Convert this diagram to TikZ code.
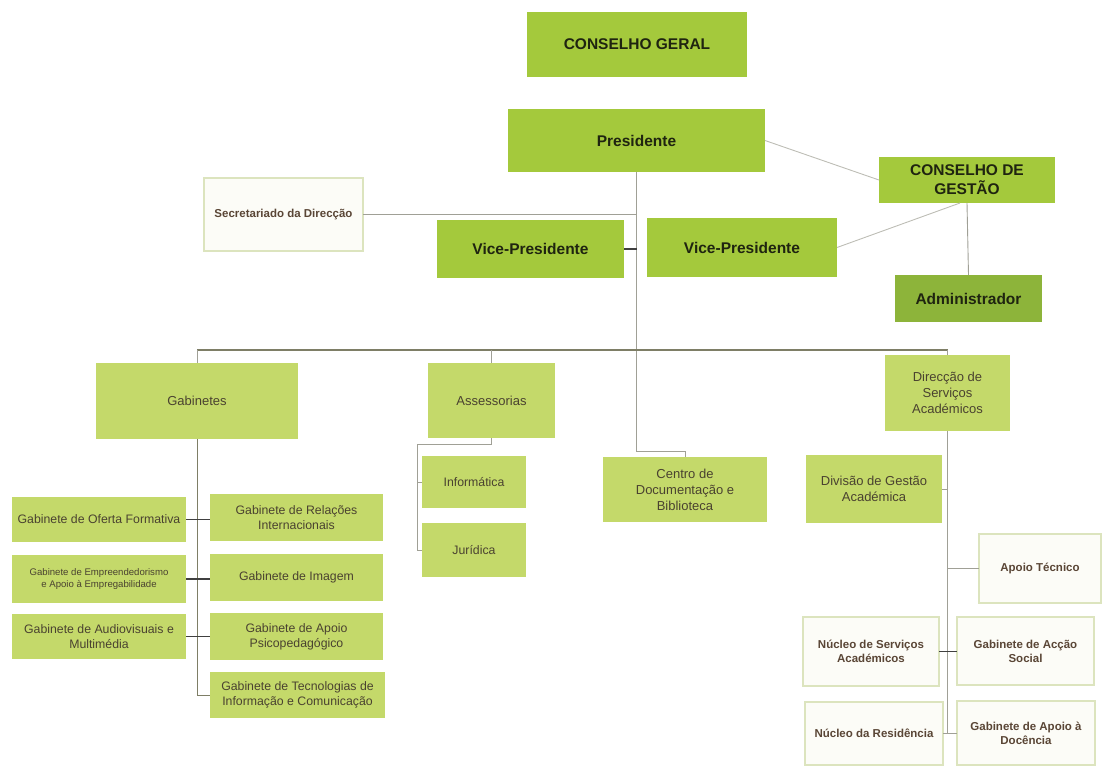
\documentclass[tikz,border=0pt]{standalone}
\usepackage{fontspec}
\setmainfont{Liberation Sans}
\definecolor{topgreen}{HTML}{A4C93C}
\definecolor{admgreen}{HTML}{8DB43A}
\definecolor{lightgreen}{HTML}{C4D96A}
\definecolor{wborder}{HTML}{DCE4BE}
\definecolor{wfill}{HTML}{FCFCF7}
\definecolor{toptext}{HTML}{1F2410}
\definecolor{lowtext}{HTML}{4A4230}
\definecolor{wtext}{HTML}{5A4636}
\definecolor{lnc}{HTML}{A0A096}
\definecolor{busc}{HTML}{7E7E66}
\newcommand\orgbox[7]{\node[#1,minimum width={(#4-#3)*1pt},minimum height={(#6-#5)*1pt}] (#2) at ({(#3+#4)/2},{(#5+#6)/2}) {#7};}
\begin{document}
\begin{tikzpicture}[x=1pt,y=-1pt,
  base/.style={inner sep=1pt,outer sep=0pt,align=center},
  topbox/.style={base,fill=topgreen,text=toptext,font=\bfseries\fontsize{15.5}{19}\selectfont},
  admbox/.style={base,fill=admgreen,text=toptext,font=\bfseries\fontsize{15.5}{19}\selectfont},
  lightbox/.style={base,fill=lightgreen,text=lowtext,font=\fontsize{13}{16}\selectfont},
  subbox/.style={base,fill=lightgreen,text=lowtext,font=\fontsize{12.3}{15}\selectfont},
  whitebox/.style={base,fill=wfill,draw=wborder,line width=1.5pt,text=wtext,font=\bfseries\fontsize{11.5}{14}\selectfont},
  conn/.style={draw=lnc,line width=0.9pt},
  busline/.style={draw=busc,line width=1.2pt},
  tick/.style={draw=black!75,line width=1.3pt}]
\useasboundingbox (0,0) rectangle (1103,766);
% top level
\orgbox{topbox}{cg}{527}{747}{12}{77}{CONSELHO GERAL}
\orgbox{topbox}{pres}{508}{765}{109}{172}{Presidente}
\orgbox{topbox}{cdg}{879}{1055}{157}{203}{CONSELHO DE\\GESTÃO}
\orgbox{admbox}{adm}{895}{1042}{275}{322}{Administrador}
\orgbox{whitebox}{sec}{204}{363}{178}{251}{Secretariado da Direcção}
\orgbox{topbox}{vp1}{437}{624}{220}{278}{Vice-Presidente}
\orgbox{topbox}{vp2}{647}{837}{218}{277}{Vice-Presidente}
% second level
\orgbox{lightbox}{gab}{96}{298}{363}{439}{Gabinetes}
\orgbox{lightbox}{ass}{428}{555}{363}{438}{Assessorias}
\orgbox{lightbox}{dir}{885}{1010}{355}{431}{Direcção de\\Serviços\\Académicos}
\orgbox{subbox}{inf}{422}{526}{456}{508}{Informática}
\orgbox{subbox}{jur}{422}{526}{523}{577}{Jurídica}
\orgbox{lightbox}{cdb}{603}{767}{457}{522}{Centro de\\Documentação e\\Biblioteca}
\orgbox{lightbox}{div}{806}{942}{455}{523}{Divisão de Gestão\\Académica}
% gabinetes
\orgbox{subbox}{g1}{12}{186}{497}{542}{Gabinete de Oferta Formativa}
\orgbox{subbox,font=\fontsize{9.6}{12}\selectfont}{g2}{12}{186}{555}{603}{Gabinete de Empreendedorismo\\e Apoio à Empregabilidade}
\orgbox{subbox}{g3}{12}{186}{614}{659}{Gabinete de Audiovisuais e\\Multimédia}
\orgbox{subbox}{g4}{210}{383}{494}{541}{Gabinete de Relações\\Internacionais}
\orgbox{subbox}{g5}{210}{383}{554}{601}{Gabinete de Imagem}
\orgbox{subbox}{g6}{210}{383}{613}{660}{Gabinete de Apoio\\Psicopedagógico}
\orgbox{subbox}{g7}{210}{385}{672}{718}{Gabinete de Tecnologias de\\Informação e Comunicação}
% direcção de serviços
\orgbox{whitebox}{apt}{979}{1101}{534}{603}{Apoio Técnico}
\orgbox{whitebox}{nsa}{803}{939}{617}{686}{Núcleo de Serviços\\Académicos}
\orgbox{whitebox}{gas}{957}{1094}{617}{685}{Gabinete de Acção\\Social}
\orgbox{whitebox}{nre}{805}{943}{702}{765}{Núcleo da Residência}
\orgbox{whitebox}{gad}{957}{1095}{701}{765}{Gabinete de Apoio à\\Docência}
% coordinates
\coordinate (trunk) at (636.5,451);
\coordinate (busL) at (197,350);
\coordinate (busR) at (948,350);
\coordinate (aL) at (417,444);
% connectors
\draw[conn] (pres.south) -- (trunk) -| (cdb.north);
\draw[conn] (sec.east) -- (sec.east -| pres.south);
\draw[tick] (vp1.east) -- (vp1.east -| pres.south);
\draw[conn,draw=lnc!70] (pres.east) -- (cdg.west);
\draw[conn,draw=lnc!70] (vp2.east) -- ([xshift=-7pt]cdg.south);
\draw[conn] (cdg.south) -- (adm.north);
\draw[busline] (busL) -- (busR);
\draw[conn] (gab.north) -- (gab.north |- busL);
\draw[conn] (ass.north) -- (ass.north |- busL);
\draw[conn] (dir.north) -- (dir.north |- busR);
\draw[conn,draw=busc] (gab.south) |- (g7.west);
\draw[tick] (g1.east) -- (g1.east -| g4.west);
\draw[tick] (g2.east) -- (g2.east -| g5.west);
\draw[tick] (g3.east) -- (g3.east -| g6.west);
\draw[conn] (ass.south) |- (aL) |- (jur.west);
\draw[conn] (aL |- inf.west) -- (inf.west);
\draw[conn] (dir.south) -- (dir.south |- nre.east);
\draw[conn] (div.east) -- (div.east -| dir.south);
\draw[conn] (apt.west) -- (apt.west -| dir.south);
\draw[tick] (nsa.east) -- (nsa.east -| gas.west);
\draw[conn] (nre.east) -- (nre.east -| gad.west);
\end{tikzpicture}
\end{document}
